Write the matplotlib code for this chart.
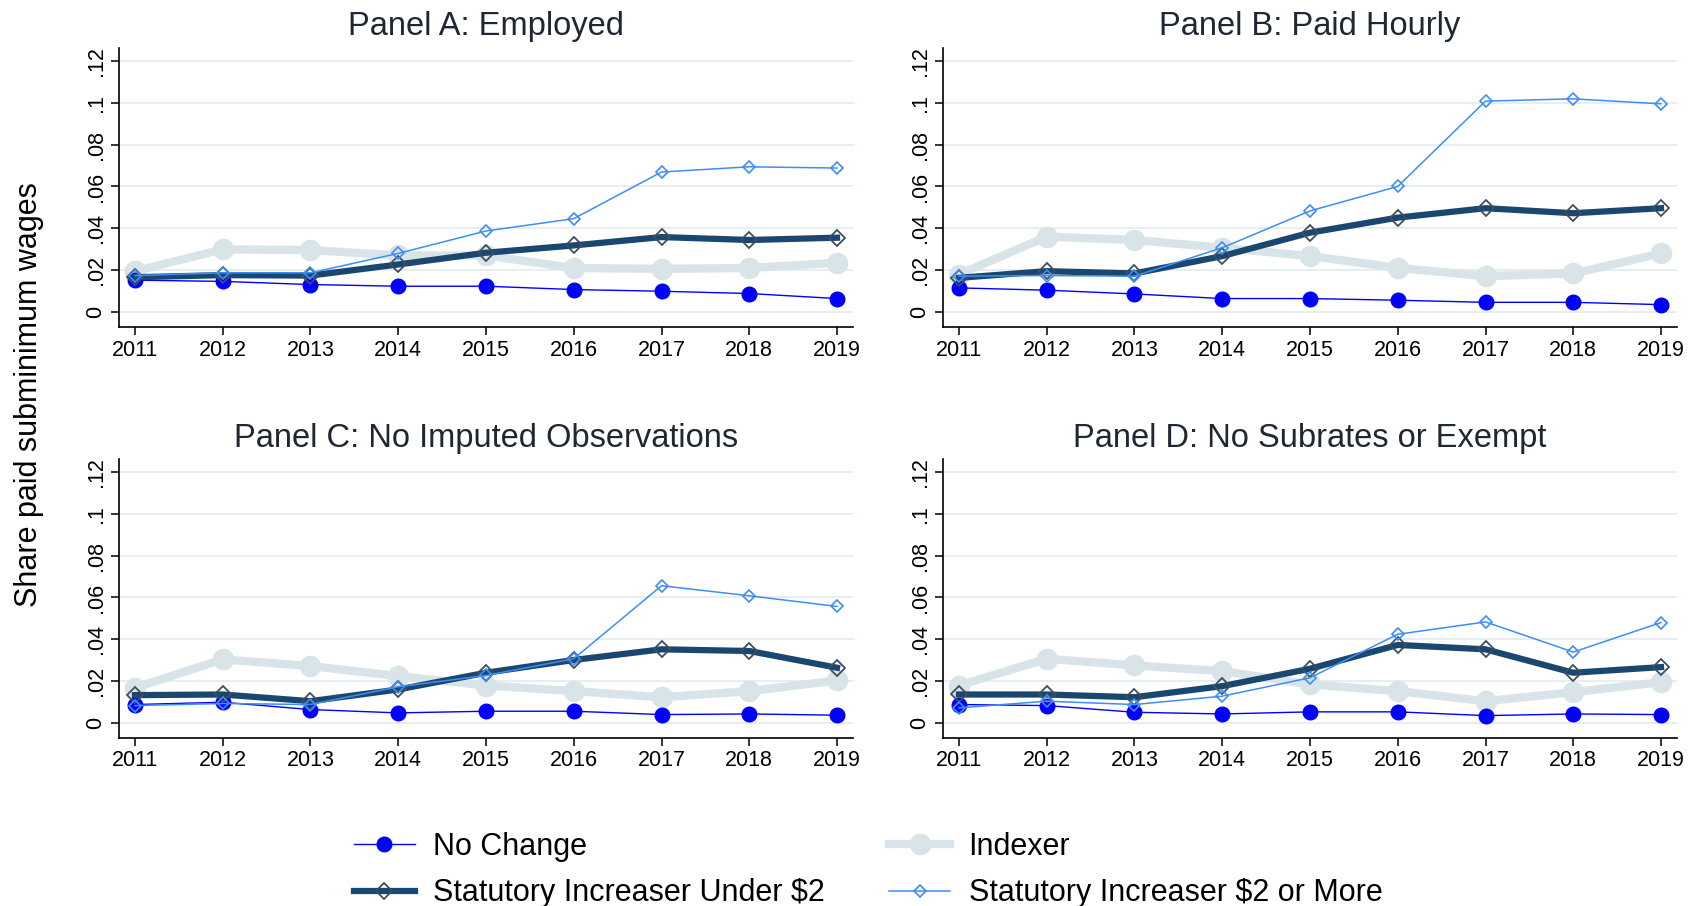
import matplotlib
matplotlib.use("Agg")
import matplotlib.pyplot as plt
from matplotlib.lines import Line2D
from matplotlib.ticker import FixedLocator, FixedFormatter

plt.rcParams['font.family'] = ['Liberation Sans', 'DejaVu Sans']

years = [2011, 2012, 2013, 2014, 2015, 2016, 2017, 2018, 2019]

panel_titles = ["Panel A: Employed", "Panel B: Paid Hourly",
                "Panel C: No Imputed Observations", "Panel D: No Subrates or Exempt"]

series_labels = ["No Change", "Indexer", "Statutory Increaser Under $2",
                 "Statutory Increaser $2 or More"]

# Panel A: Employed
a_no_change = [0.0152, 0.0146, 0.0131, 0.0123, 0.0123, 0.0107, 0.0099, 0.0088, 0.0064]
a_indexer = [0.0195, 0.0299, 0.0296, 0.0270, 0.0270, 0.0210, 0.0206, 0.0210, 0.0235]
a_under2 = [0.0166, 0.0176, 0.0174, 0.0227, 0.0283, 0.0318, 0.0358, 0.0344, 0.0355]
a_over2 = [0.0174, 0.0187, 0.0187, 0.0280, 0.0387, 0.0446, 0.0669, 0.0694, 0.0688]

# Panel B: Paid Hourly
b_no_change = [0.0115, 0.0104, 0.0086, 0.0064, 0.0064, 0.0056, 0.0046, 0.0046, 0.0035]
b_indexer = [0.0179, 0.0360, 0.0344, 0.0307, 0.0267, 0.0211, 0.0171, 0.0184, 0.0280]
b_under2 = [0.0163, 0.0195, 0.0184, 0.0267, 0.0379, 0.0451, 0.0496, 0.0472, 0.0496]
b_over2 = [0.0171, 0.0174, 0.0171, 0.0307, 0.0483, 0.0600, 0.1008, 0.1019, 0.0995]

# Panel C: No Imputed Observations
c_no_change = [0.0088, 0.0099, 0.0064, 0.0048, 0.0056, 0.0056, 0.0040, 0.0043, 0.0037]
c_indexer = [0.0168, 0.0304, 0.0272, 0.0224, 0.0179, 0.0152, 0.0123, 0.0152, 0.0203]
c_under2 = [0.0133, 0.0136, 0.0104, 0.0160, 0.0240, 0.0301, 0.0352, 0.0344, 0.0264]
c_over2 = [0.0083, 0.0093, 0.0088, 0.0173, 0.0227, 0.0307, 0.0656, 0.0608, 0.0557]

# Panel D: No Subrates or Exempt
d_no_change = [0.0088, 0.0083, 0.0051, 0.0043, 0.0053, 0.0053, 0.0035, 0.0043, 0.0040]
d_indexer = [0.0179, 0.0307, 0.0275, 0.0248, 0.0184, 0.0152, 0.0104, 0.0147, 0.0195]
d_under2 = [0.0136, 0.0136, 0.0123, 0.0176, 0.0259, 0.0373, 0.0352, 0.0240, 0.0267]
d_over2 = [0.0072, 0.0104, 0.0088, 0.0128, 0.0216, 0.0424, 0.0483, 0.0339, 0.0480]

y_ticks = [0, 0.02, 0.04, 0.06, 0.08, 0.10, 0.12]
y_tick_labels = ["0", ".02", ".04", ".06", ".08", ".1", ".12"]

panels = [
    (a_no_change, a_indexer, a_under2, a_over2),
    (b_no_change, b_indexer, b_under2, b_over2),
    (c_no_change, c_indexer, c_under2, c_over2),
    (d_no_change, d_indexer, d_under2, d_over2),
]

# Line styles for the four groups of states
styles = {
    "no_change": dict(color="#0000ff", lw=1.0, marker="o", ms=10.5,
                      mfc="#0000ff", mec="#0000ff", zorder=4),
    "indexer": dict(color="#d9e4e9", lw=6.0, marker="o", ms=14.5,
                    mfc="#d9e4e9", mec="#d9e4e9", zorder=3),
    "under2": dict(color="#1a476f", lw=4.5, marker="D", ms=8.5,
                   mfc="none", mec="#3e4e5e", mew=1.3, zorder=5),
    "over2": dict(color="#3d8ef5", lw=1.1, marker="D", ms=6.2,
                  mfc="none", mec="#3d8ef5", mew=1.2, zorder=6),
}
keys = ["no_change", "indexer", "under2", "over2"]

W, H = 1696, 906
fig = plt.figure(figsize=(W / 100, H / 100), dpi=100)
fig.patch.set_facecolor("white")

ax_w = 734 / W
ax_h = 279 / H
positions = [
    (119 / W, 1 - 327 / H),
    (943 / W, 1 - 327 / H),
    (119 / W, 1 - 738 / H),
    (943 / W, 1 - 738 / H),
]

title_color = "#1f2733"

for (left, bottom), title, data in zip(positions, panel_titles, panels):
    ax = fig.add_axes([left, bottom, ax_w, ax_h])
    for key, vals in zip(keys, data):
        ax.plot(years, vals, **styles[key])
    ax.set_xlim(2011 - 0.182, 2019 + 0.182)
    ax.set_ylim(-0.0072, 0.1262)
    ax.yaxis.set_major_locator(FixedLocator(y_ticks))
    ax.yaxis.set_major_formatter(FixedFormatter(y_tick_labels))
    ax.set_xticks(years)
    ax.set_xticklabels([str(y) for y in years])
    for lab in ax.get_yticklabels():
        lab.set_rotation(90)
        lab.set_va("center")
    ax.tick_params(axis="both", direction="out", length=6, width=1.1,
                   labelsize=15.5, colors="black", pad=3)
    ax.grid(axis="y", color="#e6eef1", lw=1.4, zorder=0)
    ax.set_axisbelow(True)
    for side in ("top", "right"):
        ax.spines[side].set_visible(False)
    for side in ("left", "bottom"):
        ax.spines[side].set_linewidth(1.2)
        ax.spines[side].set_color("black")
    ax.set_title(title, fontsize=23.5, color=title_color, pad=9)

fig.text(29 / W, 1 - 395 / H, "Share paid subminimum wages", rotation=90,
         ha="center", va="center", fontsize=22, color="black")

handles = []
for key in ["no_change", "under2", "indexer", "over2"]:
    st = dict(styles[key])
    st.pop("zorder", None)
    handles.append(Line2D([], [], **st))
labels = [series_labels[0], series_labels[2], series_labels[1], series_labels[3]]

fig.legend(handles, labels, ncol=2, loc="center",
           bbox_to_anchor=(868 / W, 1 - 870 / H), frameon=False,
           fontsize=22, handlelength=2.0, handletextpad=0.6,
           columnspacing=2.1, labelspacing=0.55, borderaxespad=0)

fig.savefig("out.png", dpi=100, facecolor="white")
